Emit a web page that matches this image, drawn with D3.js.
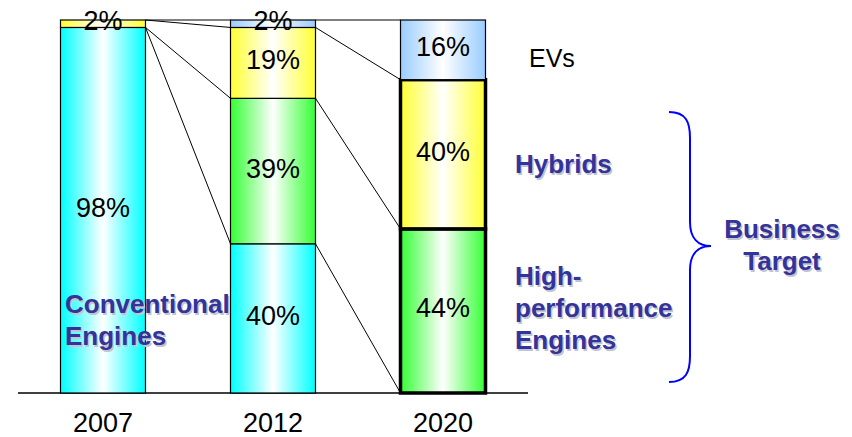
<!DOCTYPE html>
<html>
<head>
<meta charset="utf-8">
<script src="https://cdn.jsdelivr.net/npm/d3@7"></script>
<style>
  body { margin: 0; background: #fff; }
  svg { display: block; font-family: Arial, "Liberation Sans", sans-serif; }
</style>
</head>
<body>
<svg id="chart" width="852" height="437"></svg>
<script>
// data, bottom to top of each stack
const years = ["2007", "2012", "2020"];
const seriesNames = ["Conventional", "HighPerf", "Hybrids", "EVs"];
const conventional = [98, 40, 0];
const highPerf = [0, 39, 44];
const hybrids = [2, 19, 40];
const evs = [0, 2, 16];

const seriesColors = { Conventional: "#00ffff", HighPerf: "#33ff33", Hybrids: "#ffff33", EVs: "#99ccff" };

const rows = years.map((y, i) => ({
    year: y,
    Conventional: conventional[i],
    HighPerf: highPerf[i],
    Hybrids: hybrids[i],
    EVs: evs[i]
}));

const svg = d3.select("#chart");
const baseY = 393, topY = 20;

const x = d3.scaleBand().domain(years).range([18, 528]).paddingInner(0.5).paddingOuter(0.25);
const y = d3.scaleLinear().domain([0, 100]).range([baseY, topY]);

// horizontal gradients (colour at edges, white in the middle)
const defs = svg.append("defs");
seriesNames.forEach(name => {
    const g = defs.append("linearGradient")
        .attr("id", "grad_" + name)
        .attr("x1", "0%").attr("x2", "100%").attr("y1", "0%").attr("y2", "0%");
    g.append("stop").attr("offset", "0%").attr("stop-color", seriesColors[name]);
    g.append("stop").attr("offset", "50%").attr("stop-color", "#ffffff");
    g.append("stop").attr("offset", "100%").attr("stop-color", seriesColors[name]);
});

const stacked = d3.stack().keys(seriesNames)(rows);

// connector lines between neighbouring bars, along each series top
stacked.forEach(layer => {
    for (let i = 0; i < years.length - 1; i++) {
        svg.append("line")
            .attr("x1", x(years[i]) + x.bandwidth())
            .attr("y1", y(layer[i][1]))
            .attr("x2", x(years[i + 1]))
            .attr("y2", y(layer[i + 1][1]))
            .attr("stroke", "#000")
            .attr("stroke-width", 1);
    }
});

// baseline
svg.append("line")
    .attr("x1", 18).attr("x2", 528)
    .attr("y1", baseY).attr("y2", baseY)
    .attr("stroke", "#000").attr("stroke-width", 1.5);

// bars
stacked.forEach(layer => {
    const name = layer.key;
    svg.selectAll(".seg_" + name)
        .data(layer.filter(d => d[1] - d[0] > 0))
        .enter().append("rect")
            .attr("class", "seg_" + name)
            .attr("x", d => x(d.data.year))
            .attr("y", d => y(d[1]))
            .attr("width", x.bandwidth())
            .attr("height", d => y(d[0]) - y(d[1]))
            .attr("fill", "url(#grad_" + name + ")")
            .attr("stroke", "#000")
            .attr("stroke-width", d => (d.data.year === "2020" && name !== "EVs") ? 3.5 : 1.2);
});

// percent labels
stacked.forEach(layer => {
    layer.filter(d => d[1] - d[0] > 0).forEach(d => {
        svg.append("text")
            .attr("x", x(d.data.year) + x.bandwidth() / 2)
            .attr("y", (y(d[0]) + y(d[1])) / 2)
            .attr("dy", "0.24em")
            .attr("text-anchor", "middle")
            .style("font-size", "27px")
            .style("fill", "#000")
            .text((d[1] - d[0]) + "%");
    });
});

// year labels
svg.selectAll(".year").data(years).enter().append("text")
    .attr("class", "year")
    .attr("x", d => x(d) + x.bandwidth() / 2)
    .attr("y", 432)
    .attr("text-anchor", "middle")
    .style("font-size", "27px")
    .text(d => d);

// "EVs" plain label
svg.append("text")
    .attr("x", 529).attr("y", 67)
    .style("font-size", "25px")
    .text("EVs");

// bold annotation labels with a soft shadow
function boldLabel(lines, xPos, yPos, anchor) {
    [["#c4c4d0", 1.5], ["#333399", 0]].forEach(([fill, off]) => {
        const t = svg.append("text")
            .attr("x", xPos + off)
            .attr("y", yPos + off)
            .attr("text-anchor", anchor)
            .style("font-size", "26px")
            .style("font-weight", "bold")
            .style("fill", fill);
        lines.forEach((ln, k) => {
            t.append("tspan")
                .attr("x", xPos + off)
                .attr("dy", k === 0 ? 0 : 32)
                .text(ln);
        });
    });
}

boldLabel(["Conventional", "Engines"], 65, 313, "start");
boldLabel(["Hybrids"], 515, 173, "start");
boldLabel(["High-", "performance", "Engines"], 515, 285, "start");
boldLabel(["Business", "Target"], 782, 238, "middle");

// curly brace
const brace = d3.path();
brace.moveTo(669, 112);
brace.bezierCurveTo(686, 112, 690, 122, 690, 138);
brace.lineTo(690, 222);
brace.bezierCurveTo(690, 238, 698, 246, 711, 246);
brace.bezierCurveTo(698, 246, 690, 254, 690, 270);
brace.lineTo(690, 356);
brace.bezierCurveTo(690, 372, 686, 382, 669, 382);
svg.append("path")
    .attr("d", brace.toString())
    .attr("fill", "none")
    .attr("stroke", "#0000ff")
    .attr("stroke-width", 2);
</script>
</body>
</html>
